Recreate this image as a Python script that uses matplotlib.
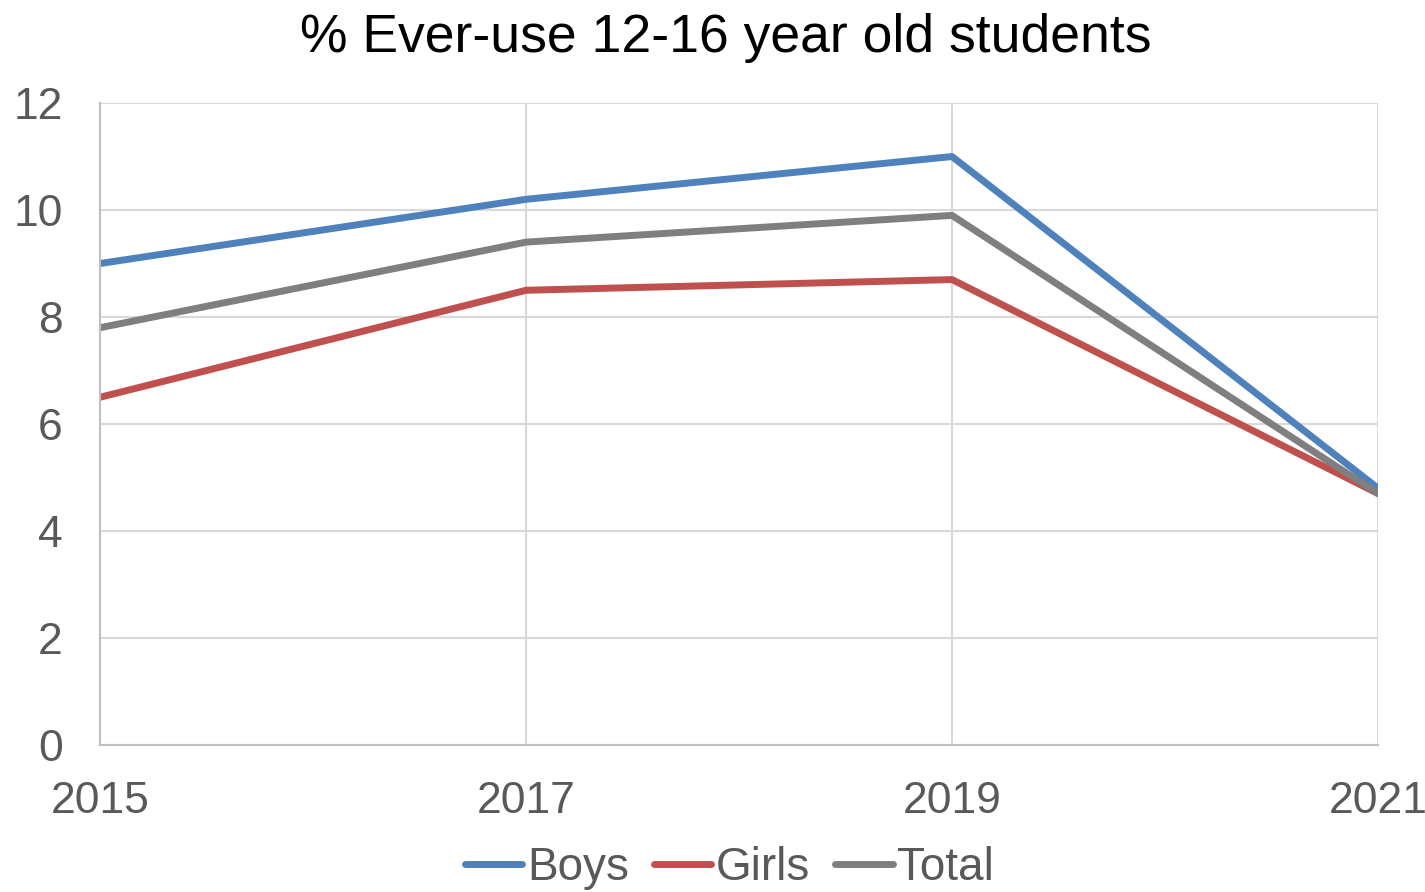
import matplotlib.pyplot as plt

plt.rcParams['font.family'] = ['Liberation Sans', 'DejaVu Sans']

years = [2015, 2017, 2019, 2021]
boys = [9.0, 10.2, 11.0, 4.8]
girls = [6.5, 8.5, 8.7, 4.7]
total = [7.8, 9.4, 9.9, 4.7]

fig = plt.figure(figsize=(14.25, 8.92), dpi=100)
ax = fig.add_axes([0.0702, 0.1648, 0.8968, 0.7197])

ax.plot(years, boys, color='#4f81bd', lw=5, label='Boys', solid_capstyle='round')
ax.plot(years, girls, color='#c0504d', lw=5, label='Girls', solid_capstyle='round')
ax.plot(years, total, color='#7f7f7f', lw=5, label='Total', solid_capstyle='round')

ax.set_xlim(2015, 2021)
ax.set_ylim(0, 12)
ax.set_xticks(years)
ax.set_yticks(range(0, 13, 2))
ax.grid(True, color='#d9d9d9', lw=1.5)
ax.set_axisbelow(True)
for s in ['top', 'right']:
    ax.spines[s].set_visible(False)
for s in ['left', 'bottom']:
    ax.spines[s].set_color('#bfbfbf')
    ax.spines[s].set_linewidth(1.5)
ax.tick_params(length=0, labelsize=32, colors='#595959')
ax.tick_params(axis='x', pad=26)
ax.tick_params(axis='y', pad=27)

fig.text(0.509, 0.957, '% Ever-use 12-16 year old students', fontsize=38.5,
         ha='center', va='center')
fig.legend(loc='center', ncol=3, frameon=False, fontsize=33,
           handlelength=1.25, handletextpad=0.1, columnspacing=0.55,
           labelcolor='#595959', bbox_to_anchor=(0.512, 0.027))

fig.savefig('out.png', dpi=100)
